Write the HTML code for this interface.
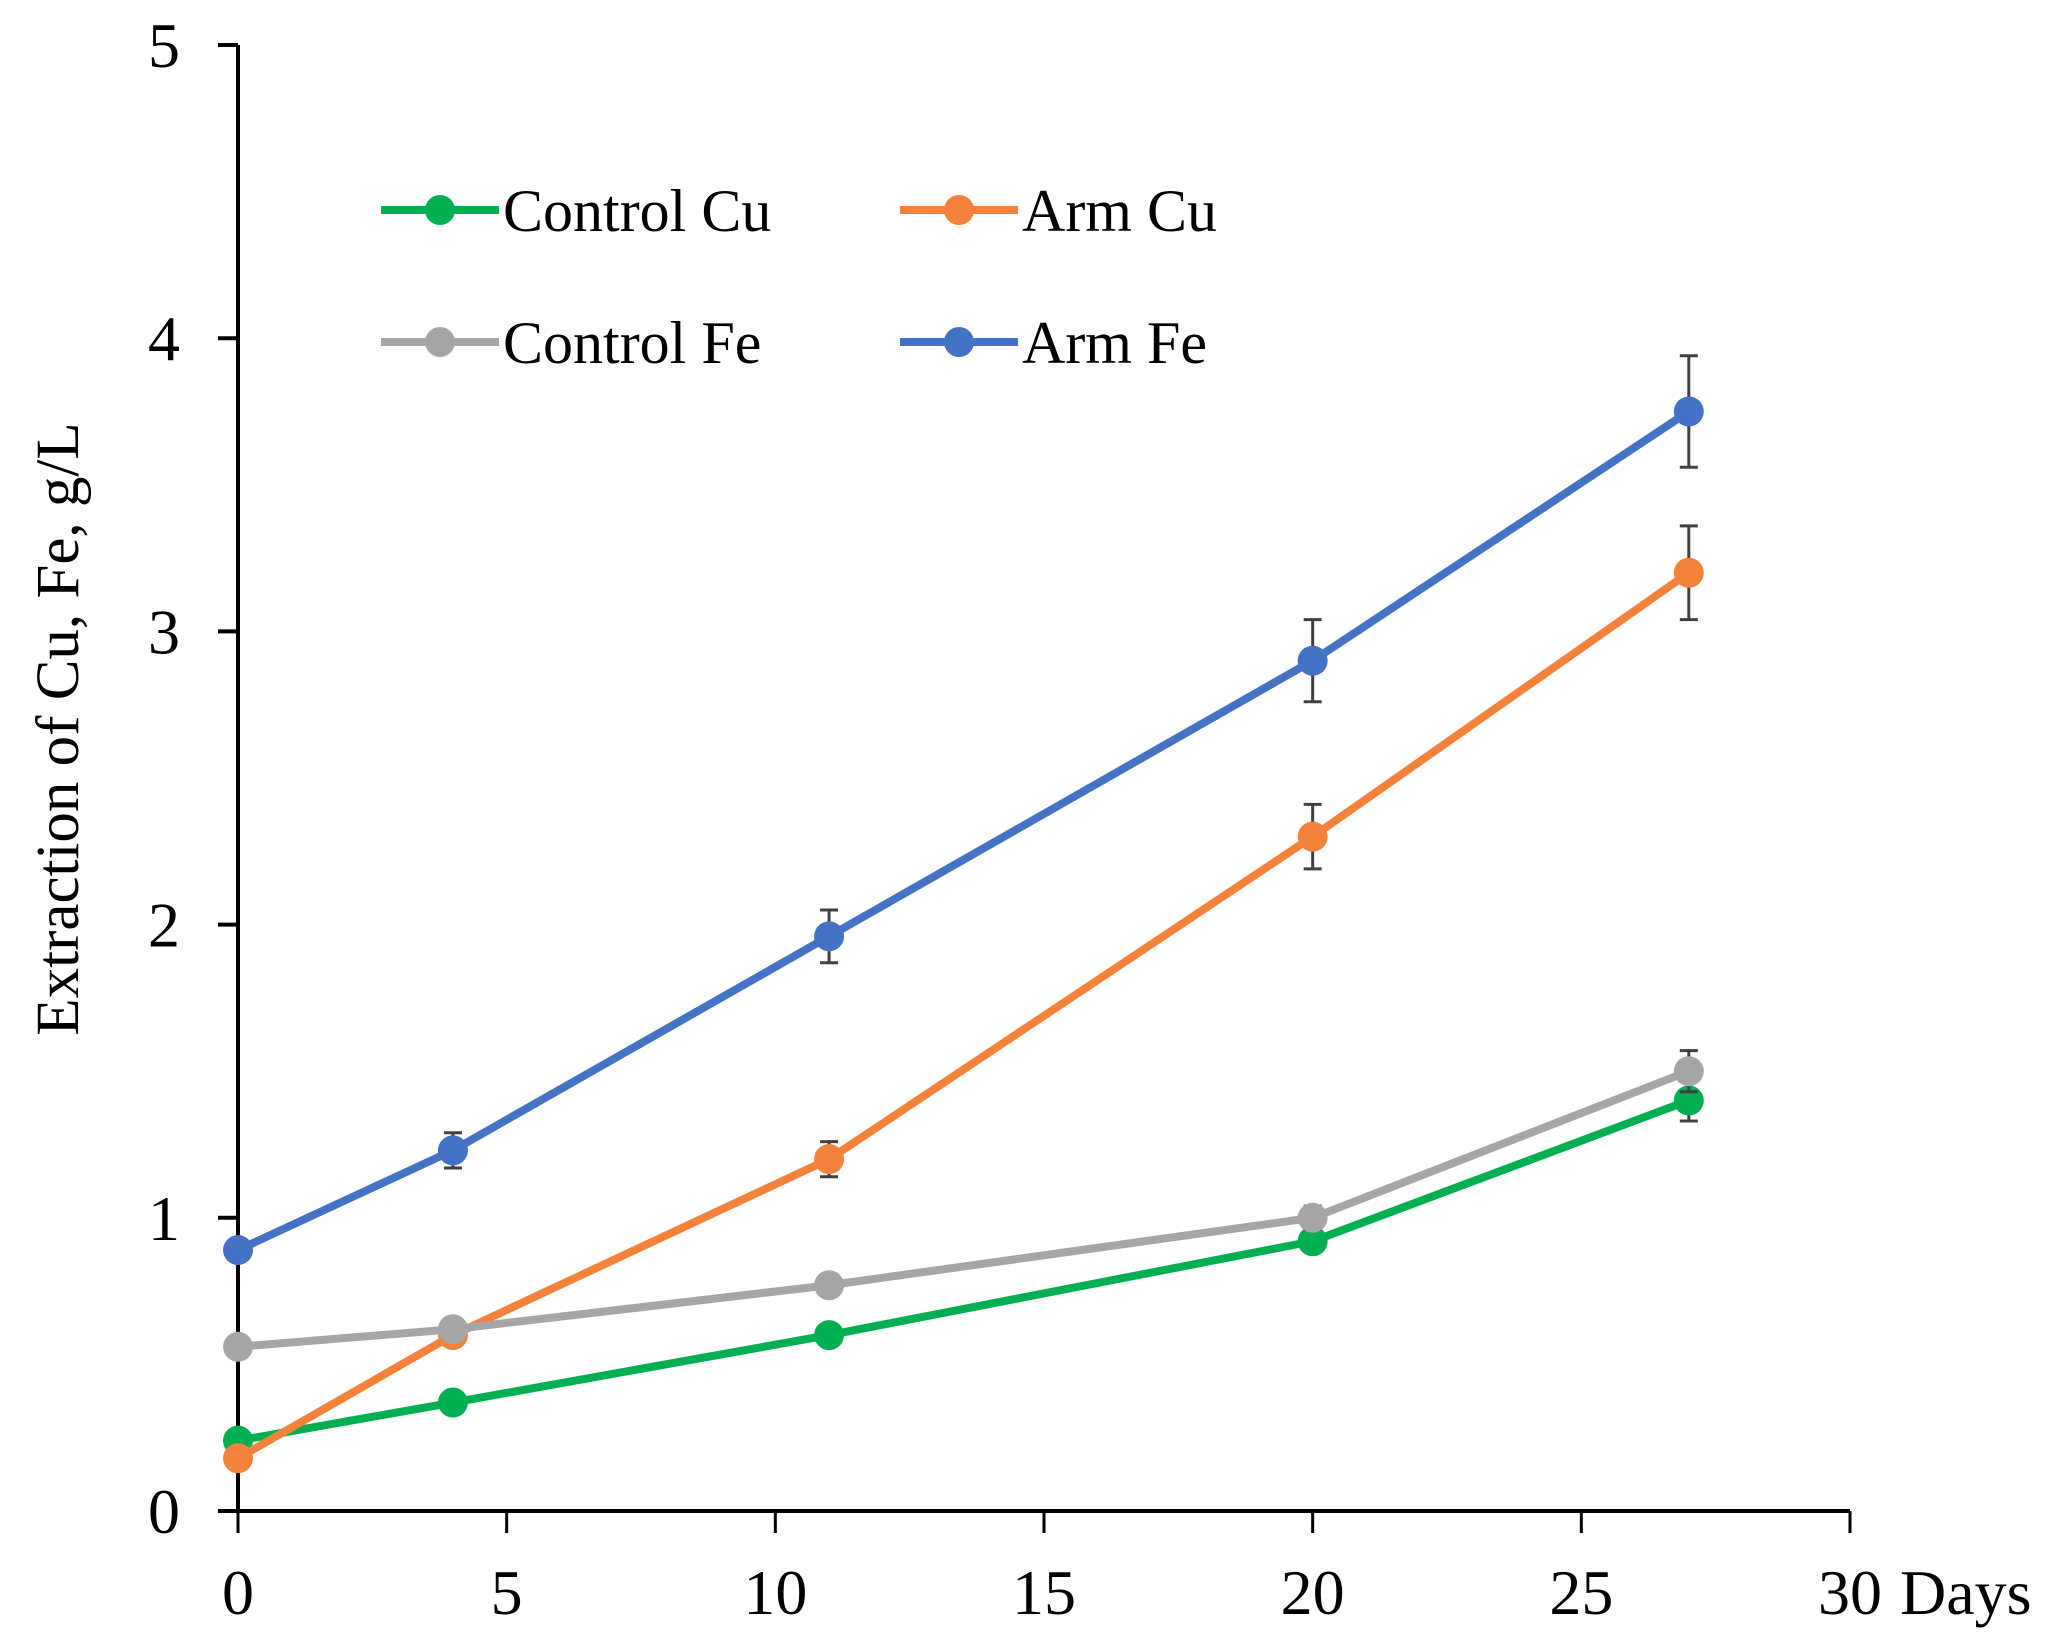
<!DOCTYPE html>
<html><head><meta charset="utf-8"><style>
html,body{margin:0;padding:0;background:#fff;}
svg{display:block;}
text{font-family:"Liberation Serif",serif;fill:#000;}
</style></head><body>
<svg id="chart" width="2060" height="1644" viewBox="0 0 2060 1644" xmlns="http://www.w3.org/2000/svg"></svg>
<script>
const days = [0, 4, 11, 20, 27];
const seriesNames = ["Control Cu", "Arm Cu", "Control Fe", "Arm Fe"];
const controlCu = [0.24, 0.37, 0.60, 0.92, 1.40];
const armCu = [0.18, 0.60, 1.20, 2.30, 3.20];
const controlFe = [0.56, 0.62, 0.77, 1.00, 1.50];
const armFe = [0.89, 1.23, 1.96, 2.90, 3.75];
const errControlCu = [0, 0, 0, 0.03, 0.07];
const errArmCu = [0, 0, 0.06, 0.11, 0.16];
const errControlFe = [0, 0, 0.03, 0.04, 0.07];
const errArmFe = [0, 0.06, 0.09, 0.14, 0.19];
const xTicks = [0, 5, 10, 15, 20, 25, 30];
const yTicks = [0, 1, 2, 3, 4, 5];

const NS = "http://www.w3.org/2000/svg";
const svg = document.getElementById("chart");
const X0 = 238, X1 = 1850, Y0 = 1511, Y1 = 45;
function xs(v){ return X0 + (v - 0) / 30 * (X1 - X0); }
function ys(v){ return Y0 - (v - 0) / 5 * (Y0 - Y1); }
function mk(tag, attrs, parent){
  const e = document.createElementNS(NS, tag);
  for (const k in attrs) e.setAttribute(k, attrs[k]);
  (parent || svg).appendChild(e);
  return e;
}

const yAxis = mk("line", {x1:X0, y1:Y1, x2:X0, y2:Y0, stroke:"#000", "stroke-width":4});


const xAxis = mk("line", {x1:X0-20, y1:Y0, x2:X1, y2:Y0, stroke:"#000", "stroke-width":4});



yTicks.forEach(t => {
  const tk = mk("line", {x1:X0-20, y1:ys(t), x2:X0, y2:ys(t), stroke:"#000", "stroke-width":4});
  
  
  const lb = mk("text", {x:180, y:ys(t)+22, "text-anchor":"end", "font-size":64});
  lb.textContent = t;
  
  
});
xTicks.forEach(t => {
  const tk = mk("line", {x1:xs(t), y1:Y0, x2:xs(t), y2:Y0+22, stroke:"#000", "stroke-width":3});
  
  
  const lb = mk("text", {x:xs(t), y:1614, "text-anchor":"middle", "font-size":64});
  lb.textContent = t;
  
  
});
const xt = mk("text", {x:1900, y:1614, "font-size":64});
xt.textContent = "Days";


const yt = mk("text", {x:0, y:0, "text-anchor":"middle", "font-size":61, transform:"translate(78,729) rotate(-90)"});
yt.textContent = "Extraction of Cu, Fe, g/L";



const colors = ["#00b050", "#f5823a", "#a6a6a6", "#4472c4"];
const values = [controlCu, armCu, controlFe, armFe];
const errs = [errControlCu, errArmCu, errControlFe, errArmFe];
const keys = ["control-cu", "arm-cu", "control-fe", "arm-fe"];

values.forEach((vals, si) => {
  const g = mk("g", {});
  
  
  const pts = days.map((d, i) => xs(d) + "," + ys(vals[i])).join(" ");
  const pl = mk("polyline", {points:pts, fill:"none", stroke:colors[si], "stroke-width":8, "stroke-linejoin":"round"}, g);
  
  
  days.forEach((d, i) => {
    const e = errs[si][i];
    if (e > 0) {
      const x = xs(d), ya = ys(vals[i] + e), yb = ys(vals[i] - e);
      const eb = mk("path", {d:`M${x},${ya}V${yb}M${x-9},${ya}H${x+9}M${x-9},${yb}H${x+9}`, stroke:"#404040", "stroke-width":3, fill:"none"}, g);
      
      
    }
    const c = mk("circle", {cx:xs(d), cy:ys(vals[i]), r:15, fill:colors[si]}, g);
    
    
  });
});

const legPos = [[381,210],[900,210],[381,342],[900,342]];
seriesNames.forEach((n, si) => {
  const [lx, ly] = legPos[si];
  const g = mk("g", {});
  
  
  mk("line", {x1:lx, y1:ly, x2:lx+118, y2:ly, stroke:colors[si], "stroke-width":8}, g);
  mk("circle", {cx:lx+59, cy:ly, r:15, fill:colors[si]}, g);
  const t = mk("text", {x:lx+122, y:ly+21, "font-size":60}, g);
  t.textContent = n;
});
</script>
</body></html>
